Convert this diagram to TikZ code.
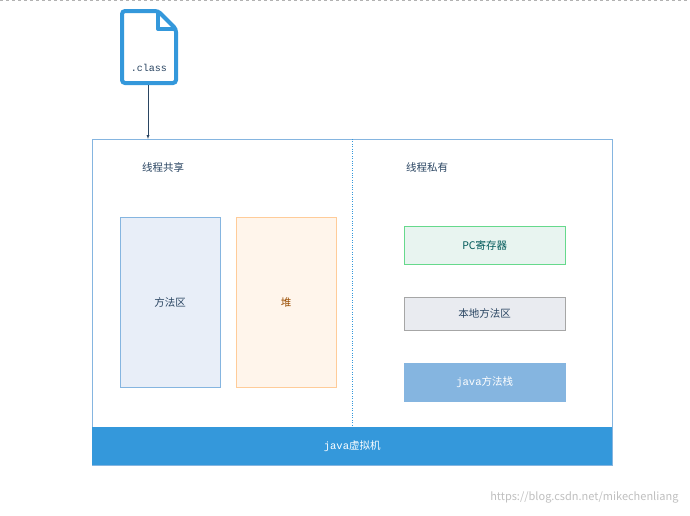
\documentclass[tikz,border=0pt]{standalone}
\usepackage{fontspec}
\setmainfont{Noto Sans CJK SC}
\setmonofont{Liberation Mono}
\usetikzlibrary{positioning}
\definecolor{jvmblue}{HTML}{3498DB}
\definecolor{framecol}{HTML}{85B5E0}
\definecolor{txtcol}{HTML}{2A4562}
\definecolor{methodfill}{HTML}{E8EEF8}
\definecolor{nativefill}{HTML}{E9EBF0}
\definecolor{pcfill}{HTML}{E8F4F0}
\begin{document}
\begin{tikzpicture}[x=1pt,y=-1pt,font=\fontsize{10.5}{12}\selectfont,text=txtcol]
  \tikzstyle{area}=[draw, minimum width=100pt, minimum height=170pt, anchor=north west]
  \tikzstyle{privbox}=[draw, minimum width=161pt, anchor=north west]
  \useasboundingbox (0,0) rectangle (690,515);
  \draw[gray!60, dashed] (0,0.5) -- (690,0.5);
  % frame
  \node[draw=framecol, minimum width=520pt, minimum height=326pt, anchor=north west] (jvm) at (92,139) {};
  \node[fill=jvmblue, text=white, minimum width=520pt, minimum height=38pt, anchor=north west] (vm) at (92,427) {\ttfamily java\rmfamily 虚拟机};
  \draw[jvmblue, dotted] (352,139) -- (352,427);
  \node (shared) at (163,167) {线程共享};
  \node (private) at (427,167) {线程私有};
  % shared areas
  \node[area, draw=framecol, fill=methodfill] (method) at (120,217) {方法区};
  \node[area, draw=orange!40, fill=orange!8!white, text=orange!60!black] (heap) at (236,217) {堆};
  % private areas
  \node[privbox, draw=green!50!teal!60, fill=pcfill, text=teal!70!black, minimum height=38pt] (pc) at (404,226) {PC寄存器};
  \node[privbox, draw=gray!70, fill=nativefill, minimum height=33pt] (native) at (404,297) {本地方法区};
  \node[privbox, draw=framecol, fill=framecol, text=white, minimum height=38pt] (stack) at (404,363) {\ttfamily java\rmfamily 方法栈};
  % class file
  \draw[jvmblue, line width=4pt, rounded corners=3pt, fill=white] (122,11) -- (158,11) -- (176,29) -- (176,83) -- (122,83) -- cycle;
  \draw[jvmblue, line width=4pt, line join=round] (158,11) -- (158,29) -- (176,29);
  \node[font=\ttfamily\fontsize{10}{12}\selectfont] (cls) at (149,68) {.class};
  \coordinate (clsbot) at (148,85);
  \draw[-latex, txtcol] (clsbot) -- (jvm.north west -| clsbot);
  \node[text=gray!50, anchor=east, font=\fontsize{11}{13}\selectfont] (mark) at (682,497) {https://blog.csdn.net/mikechenliang};
\end{tikzpicture}
\end{document}
